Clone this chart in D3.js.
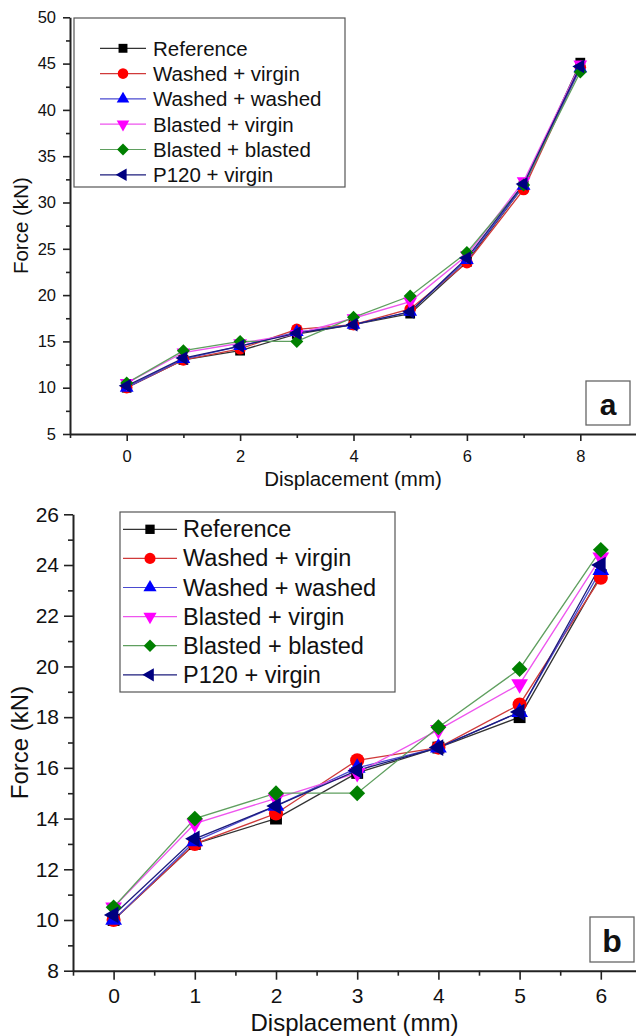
<!DOCTYPE html>
<html><head><meta charset="utf-8">
<script src="https://cdn.jsdelivr.net/npm/d3@7"></script>
<style>body{margin:0;background:#fff}svg{display:block}text{font-family:"Liberation Sans",Arial,sans-serif;fill:#111}</style>
</head><body><svg id="c" width="636" height="1036"></svg>
<script>
const displacement = [0,1,2,3,4,5,6,7,8];
const seriesNames = ["Reference","Washed + virgin","Washed + washed","Blasted + virgin","Blasted + blasted","P120 + virgin"];
const reference      = [10.0,13.0,14.0,15.8,16.8,18.0,23.6,31.8,45.1];
const washedVirgin   = [10.0,13.0,14.2,16.3,16.8,18.5,23.5,31.4,44.6];
const washedWashed   = [10.0,13.1,14.5,16.0,16.8,18.2,23.8,31.8,44.5];
const blastedVirgin  = [10.5,13.8,14.8,15.8,17.5,19.3,24.3,32.3,44.9];
const blastedBlasted = [10.5,14.0,15.0,15.0,17.6,19.9,24.6,31.9,44.1];
const p120Virgin     = [10.2,13.2,14.5,15.9,16.8,18.2,24.0,32.0,44.7];
const seriesValues = [reference,washedVirgin,washedWashed,blastedVirgin,blastedBlasted,p120Virgin];
const topXTicks = [0,2,4,6,8];
const topYTicks = [5,10,15,20,25,30,35,40,45,50];
const botXTicks = [0,1,2,3,4,5,6];
const botYTicks = [8,10,12,14,16,18,20,22,24,26];

const markerFill = ["#000000","#ff0000","#0000ff","#ff00ff","#008000","#000080"];
const lineColor  = ["#333333","#d03a3a","#4a4ad0","#ee55ee","#5f9f5f","#1c1c7c"];
const shapes = [
  {t:d3.symbolSquare, r:0},
  {t:d3.symbolCircle, r:0},
  {t:d3.symbolTriangle, r:0},
  {t:d3.symbolTriangle, r:180},
  {t:d3.symbolSquare, r:45},
  {t:d3.symbolTriangle, r:-90}
];
const baseArea = [72,80,62,62,64,62];

const svg = d3.select("#c");

function panel(cfg){
  const g = svg.append("g");
  const x = d3.scaleLinear().domain(cfg.xd).range(cfg.xr);
  const y = d3.scaleLinear().domain(cfg.yd).range(cfg.yr);
  const k = cfg.k;
  const axisCol = "#222";
  const gxm = g.append("g").attr("transform",`translate(0,${cfg.yr[0]})`)
    .call(d3.axisBottom(x).tickValues(cfg.xMinor).tickSize(cfg.minorLen).tickSizeOuter(0).tickFormat(""));
  const gym = g.append("g").attr("transform",`translate(${cfg.xr[0]},0)`)
    .call(d3.axisLeft(y).tickValues(cfg.yMinor).tickSize(cfg.minorLen).tickSizeOuter(0).tickFormat(""));
  [gxm,gym].forEach(a=>{a.select(".domain").remove();a.selectAll("line").attr("stroke",axisCol).attr("stroke-width",1.6);});
  const gx = g.append("g").attr("transform",`translate(0,${cfg.yr[0]})`)
    .call(d3.axisBottom(x).tickValues(cfg.xTicks).tickSize(cfg.majorLen).tickPadding(cfg.xPad).tickSizeOuter(0).tickFormat(d3.format("d")));
  const gy = g.append("g").attr("transform",`translate(${cfg.xr[0]},0)`)
    .call(d3.axisLeft(y).tickValues(cfg.yTicks).tickSize(cfg.majorLen).tickPadding(cfg.yPad).tickSizeOuter(0).tickFormat(d3.format("d")));
  [gx,gy].forEach(a=>{
    a.select(".domain").attr("stroke",axisCol).attr("stroke-width",2);
    a.selectAll("line").attr("stroke",axisCol).attr("stroke-width",1.6);
    a.selectAll("text").style("font-size",cfg.tickFont+"px").attr("fill","#111").style("font-family",'"Liberation Sans",Arial,sans-serif');
  });
  g.append("text").attr("x",(cfg.xr[0]+Math.min(cfg.xr[1],636))/2+cfg.xTitleDx).attr("y",cfg.xTitleY)
    .attr("text-anchor","middle").attr("dominant-baseline","central").style("font-size",cfg.titleFont+"px").text("Displacement (mm)");
  g.append("text").attr("transform",`translate(${cfg.yTitleX},${(cfg.yr[0]+cfg.yr[1])/2}) rotate(-90)`)
    .attr("text-anchor","middle").attr("dominant-baseline","central").style("font-size",cfg.titleFont+"px").text("Force (kN)");
  const n = cfg.n;
  const line = d3.line().x((d,i)=>x(displacement[i])).y(d=>y(d));
  seriesValues.forEach((vals,si)=>{
    const v = vals.slice(0,n);
    g.append("path").attr("d",line(v)).attr("fill","none").attr("stroke",lineColor[si]).attr("stroke-width",1.3);
  });
  seriesValues.forEach((vals,si)=>{
    const v = vals.slice(0,n);
    const sym = d3.symbol().type(shapes[si].t).size(baseArea[si]*k*k);
    g.selectAll(null).data(v).enter().append("path")
      .attr("d",sym).attr("fill",markerFill[si]).attr("stroke","none")
      .attr("transform",(d,i)=>`translate(${x(displacement[i])},${y(d)}) rotate(${shapes[si].r})`);
  });
  const L = cfg.legend;
  g.append("rect").attr("x",L.x0).attr("y",L.y0).attr("width",L.x1-L.x0).attr("height",L.y1-L.y0)
    .attr("fill","#fff").attr("stroke","#555").attr("stroke-width",1.2);
  seriesNames.forEach((name,si)=>{
    const yy = L.row0 + si*L.dy;
    g.append("line").attr("x1",L.lx0).attr("x2",L.lx1).attr("y1",yy).attr("y2",yy).attr("stroke",lineColor[si]).attr("stroke-width",1.2);
    const sym = d3.symbol().type(shapes[si].t).size(baseArea[si]*L.k*L.k);
    g.append("path").attr("d",sym).attr("fill",markerFill[si])
      .attr("transform",`translate(${(L.lx0+L.lx1)/2},${yy}) rotate(${shapes[si].r})`);
    g.append("text").attr("x",L.tx).attr("y",yy).attr("dominant-baseline","central")
      .style("font-size",L.font+"px").text(name);
  });
  const B = cfg.box;
  g.append("rect").attr("x",B.x).attr("y",B.y).attr("width",B.w).attr("height",B.h)
    .attr("fill","#fff").attr("stroke","#666").attr("stroke-width",1.3);
  g.append("text").attr("x",B.x+B.w/2).attr("y",B.y+B.h/2+1).attr("text-anchor","middle").attr("dominant-baseline","central")
    .style("font-size",B.font+"px").style("font-weight","bold").text(B.label);
}

panel({
  xd:[-1,9], xr:[70,637], yd:[5,50], yr:[434,17.3], k:1.15,
  xTicks:topXTicks, yTicks:topYTicks,
  xMinor:d3.range(-1,9.01,1).filter(v=>v%2!==0), yMinor:d3.range(7.5,50,5),
  majorLen:7, minorLen:4, xPad:9, yPad:7, tickFont:16.5, titleFont:20.5,
  xTitleY:478, xTitleDx:0, yTitleX:20, n:9,
  legend:{x0:74,x1:345,y0:18,y1:187,row0:48.3,dy:25.3,lx0:100,lx1:146,tx:153,font:20.5,k:1.05},
  box:{x:586,y:381,w:44,h:44,font:30,label:"a"}
});
panel({
  xd:[-0.5,6.5], xr:[73,641.4], yd:[8,26], yr:[970.7,514.3], k:1.4,
  xTicks:botXTicks, yTicks:botYTicks,
  xMinor:d3.range(-0.5,6.6,1), yMinor:d3.range(9,26,2),
  majorLen:9, minorLen:5, xPad:8, yPad:5, tickFont:21, titleFont:24,
  xTitleY:1022, xTitleDx:0, yTitleX:19.5, n:7,
  legend:{x0:120,x1:395,y0:512,y1:692,row0:529.3,dy:29.1,lx0:123,lx1:177,tx:183,font:23.5,k:1.1},
  box:{x:590,y:917,w:44,h:45,font:32,label:"b"}
});
</script></body></html>
